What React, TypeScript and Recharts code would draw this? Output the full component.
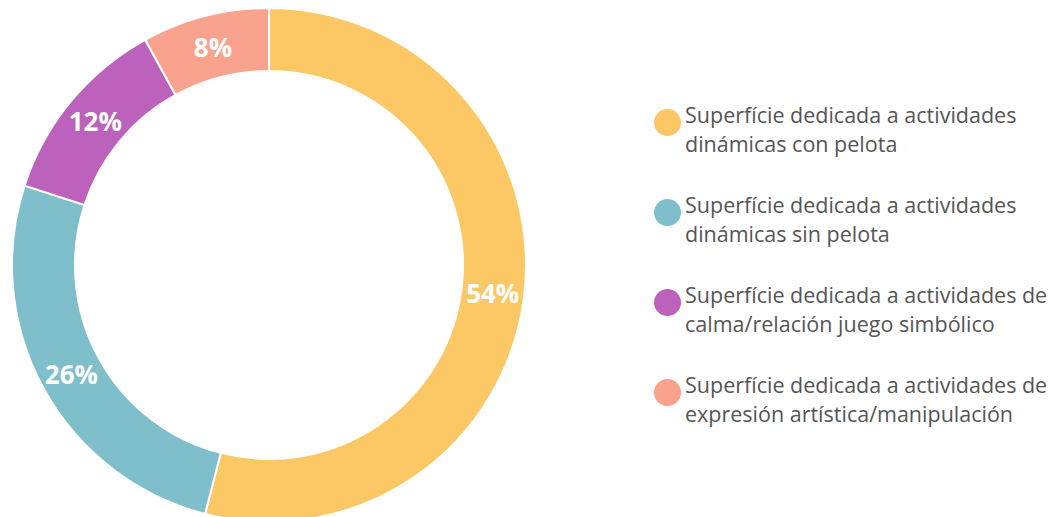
import { PieChart, Pie, Cell, Legend } from 'recharts';

const categories = [
  ['Superfície dedicada a actividades', 'dinámicas con pelota'],
  ['Superfície dedicada a actividades', 'dinámicas sin pelota'],
  ['Superfície dedicada a actividades de', 'calma/relación juego simbólico'],
  ['Superfície dedicada a actividades de', 'expresión artística/manipulación'],
];
const values = [54, 26, 12, 8];
const colors = ['#FBC865', '#7FBFCB', '#BC62BC', '#F9A38E'];

const data = values.map((v, i) => ({ name: categories[i].join(' '), value: v }));

const RAD = Math.PI / 180;

const renderLabel = (props: any) => {
  const { cx, cy, midAngle, innerRadius, outerRadius, value } = props;
  const r = (innerRadius + outerRadius) / 2;
  const x = cx + r * Math.cos(-midAngle * RAD);
  const y = cy + r * Math.sin(-midAngle * RAD);
  return (
    <text
      x={x}
      y={y}
      fill="#fff"
      textAnchor="middle"
      dominantBaseline="central"
      style={{ fontFamily: '"Open Sans", sans-serif', fontWeight: 700, fontSize: 26 }}
    >
      {value}%
    </text>
  );
};

const renderLegend = () => (
  <div style={{ fontFamily: '"Open Sans", sans-serif', fontSize: 21.5, color: '#555', lineHeight: '29px' }}>
    {categories.map((lines, i) => (
      <div key={i} style={{ display: 'flex', alignItems: 'flex-start', marginBottom: 32 }}>
        <div
          style={{
            width: 27,
            height: 27,
            borderRadius: '50%',
            backgroundColor: colors[i],
            marginTop: 9,
            marginRight: 4,
            flexShrink: 0,
          }}
        />
        <div>
          {lines.map((l, j) => (
            <div key={j} style={{ whiteSpace: 'nowrap' }}>{l}</div>
          ))}
        </div>
      </div>
    ))}
  </div>
);

export default function App() {
  return (
    <div style={{ position: 'absolute', left: 0, top: 0, width: 1052, height: 517, background: '#fff', overflow: 'hidden' }}>
      <PieChart width={1052} height={517} margin={{ top: 0, right: 0, bottom: 0, left: 0 }}>
        <Pie
          data={data}
          dataKey="value"
          cx={269}
          cy={265}
          innerRadius={194}
          outerRadius={257}
          startAngle={90}
          endAngle={-270}
          stroke="#fff"
          strokeWidth={2}
          label={renderLabel}
          labelLine={false}
          isAnimationActive={false}
        >
          {data.map((_, i) => (
            <Cell key={`cell-${i}`} fill={colors[i]} />
          ))}
        </Pie>
        <Legend
          layout="vertical"
          content={renderLegend}
          wrapperStyle={{ position: 'absolute', left: 654, top: 100, width: 398 }}
        />
      </PieChart>
    </div>
  );
}
